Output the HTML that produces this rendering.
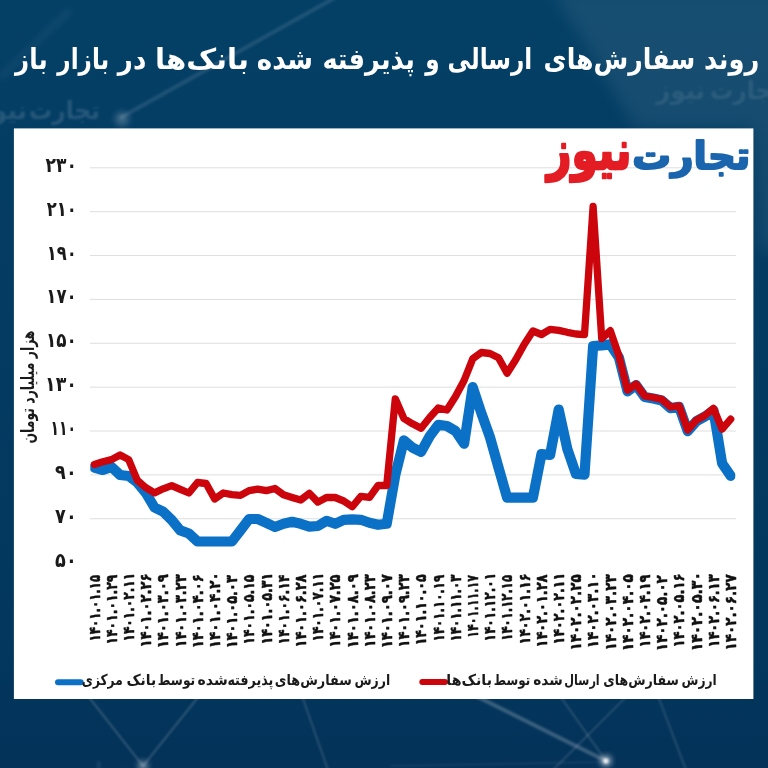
<!DOCTYPE html>
<html lang="fa">
<head>
<meta charset="utf-8">
<title>روند سفارش‌های ارسالی و پذیرفته شده بانک‌ها در بازار باز</title>
<style>
html,body{margin:0;padding:0;width:768px;height:768px;overflow:hidden;background:#043b62;}
svg{display:block;position:absolute;left:0;top:0;}
text{font-family:"DejaVu Sans","Liberation Sans",sans-serif;font-weight:bold;}
</style>
</head>
<body>
<svg width="768" height="768" viewBox="0 0 768 768">
<defs>
<linearGradient id="bg" x1="0" y1="0" x2="0" y2="1">
<stop offset="0" stop-color="#044066"/><stop offset="0.2" stop-color="#043d64"/><stop offset="0.85" stop-color="#03375d"/><stop offset="1" stop-color="#043259"/>
</linearGradient>
<clipPath id="plot"><rect x="90.3" y="140" width="645" height="440"/></clipPath>
<filter id="b1" x="-20%" y="-20%" width="140%" height="140%"><feGaussianBlur stdDeviation="1.2"/></filter>
<filter id="b3" x="-50%" y="-50%" width="200%" height="200%"><feGaussianBlur stdDeviation="3"/></filter>
<filter id="b8" x="-50%" y="-50%" width="200%" height="200%"><feGaussianBlur stdDeviation="8"/></filter>
</defs>
<rect width="768" height="768" fill="url(#bg)"/>
<g id="decor">
<polygon points="552,-10 790,-10 790,250 760,250 752,128 636,128" fill="#ffffff" opacity="0.07" filter="url(#b8)"/>
<line x1="338" y1="-4" x2="120" y2="118" stroke="#ffffff" stroke-width="4" opacity="0.10" filter="url(#b1)"/>
<line x1="0" y1="78" x2="70" y2="10" stroke="#ffffff" stroke-width="6" opacity="0.05" filter="url(#b3)"/>
<circle cx="122" cy="119" r="7" fill="#ffffff" opacity="0.22" filter="url(#b3)"/>
<g stroke="#ffffff" fill="none" filter="url(#b1)">
<line x1="88" y1="696" x2="143" y2="766" stroke-width="1.6" opacity="0.22"/>
<line x1="199" y1="696" x2="143" y2="766" stroke-width="1.6" opacity="0.22"/>
<line x1="302" y1="696" x2="328" y2="770" stroke-width="1.4" opacity="0.20"/>
<line x1="476" y1="696" x2="606" y2="761" stroke-width="4" opacity="0.22"/>
<line x1="560" y1="696" x2="606" y2="761" stroke-width="1.4" opacity="0.18"/>
<line x1="627" y1="696" x2="553" y2="770" stroke-width="1.4" opacity="0.18"/>
<line x1="658" y1="696" x2="686" y2="770" stroke-width="1.4" opacity="0.18"/>
<line x1="390" y1="766" x2="606" y2="762" stroke-width="1.2" opacity="0.12"/>
</g>
<circle cx="143" cy="766" r="5" fill="#ffffff" opacity="0.45" filter="url(#b3)"/>
<circle cx="606" cy="761" r="5" fill="#ffffff" opacity="0.75" filter="url(#b3)"/>
<circle cx="606" cy="761" r="2.5" fill="#ffffff" opacity="0.8" filter="url(#b1)"/>
<text y="119" text-anchor="start" direction="rtl" font-size="25" fill="#ffffff" opacity="0.13" filter="url(#b1)"><tspan x="100.0" textLength="71.1" lengthAdjust="spacingAndGlyphs">تجارت</tspan> <tspan x="27.0" textLength="49.67" lengthAdjust="spacingAndGlyphs">نیوز</tspan></text>
<text y="99" text-anchor="start" direction="rtl" font-size="25" fill="#ffffff" opacity="0.09" filter="url(#b1)"><tspan x="781.0" textLength="71.1" lengthAdjust="spacingAndGlyphs">تجارت</tspan> <tspan x="705.0" textLength="48.66" lengthAdjust="spacingAndGlyphs">نیوز</tspan></text>
<text y="780" text-anchor="start" direction="rtl" font-size="25" fill="#ffffff" opacity="0.07" filter="url(#b1)"><tspan x="129.0" textLength="71.1" lengthAdjust="spacingAndGlyphs">تجارت</tspan> <tspan x="54.0" textLength="48.66" lengthAdjust="spacingAndGlyphs">نیوز</tspan></text>
</g>
<text y="68.6" text-anchor="start" direction="rtl" font-size="29" fill="#ffffff"><tspan x="759.3" textLength="55.4" lengthAdjust="spacingAndGlyphs">روند</tspan> <tspan x="695.2" textLength="151.61" lengthAdjust="spacingAndGlyphs">سفارش‌های</tspan> <tspan x="532.3" textLength="84.72" lengthAdjust="spacingAndGlyphs">ارسالی</tspan> <tspan x="439.5" textLength="14.35" lengthAdjust="spacingAndGlyphs">و</tspan> <tspan x="414.9" textLength="92.52" lengthAdjust="spacingAndGlyphs">پذیرفته</tspan> <tspan x="313.0" textLength="56.32" lengthAdjust="spacingAndGlyphs">شده</tspan> <tspan x="248.9" textLength="93.89" lengthAdjust="spacingAndGlyphs">بانک‌ها</tspan> <tspan x="146.4" textLength="28.54" lengthAdjust="spacingAndGlyphs">در</tspan> <tspan x="109.3" textLength="51.95" lengthAdjust="spacingAndGlyphs">بازار</tspan> <tspan x="47.6" textLength="32.51" lengthAdjust="spacingAndGlyphs">باز</tspan></text>
<rect x="13.9" y="128.4" width="739.5" height="570.6" fill="#ffffff"/>

<g stroke="#dedede" stroke-width="1" fill="none">
<line x1="90" y1="167.80" x2="736" y2="167.80"/>
<line x1="90" y1="211.67" x2="736" y2="211.67"/>
<line x1="90" y1="255.54" x2="736" y2="255.54"/>
<line x1="90" y1="299.41" x2="736" y2="299.41"/>
<line x1="90" y1="343.28" x2="736" y2="343.28"/>
<line x1="90" y1="387.15" x2="736" y2="387.15"/>
<line x1="90" y1="431.02" x2="736" y2="431.02"/>
<line x1="90" y1="474.89" x2="736" y2="474.89"/>
<line x1="90" y1="518.76" x2="736" y2="518.76"/>
</g>
<g font-size="20.4" fill="#1a1a1a" text-anchor="end" direction="ltr">
<text x="76.9" y="171.8" textLength="31.4" lengthAdjust="spacingAndGlyphs">۲۳۰</text>
<text x="76.7" y="215.7" textLength="30" lengthAdjust="spacingAndGlyphs">۲۱۰</text>
<text x="76.7" y="259.5" textLength="30" lengthAdjust="spacingAndGlyphs">۱۹۰</text>
<text x="76.7" y="303.4" textLength="30.4" lengthAdjust="spacingAndGlyphs">۱۷۰</text>
<text x="76.8" y="347.3" textLength="30.8" lengthAdjust="spacingAndGlyphs">۱۵۰</text>
<text x="77.0" y="391.1" textLength="32" lengthAdjust="spacingAndGlyphs">۱۳۰</text>
<text x="75.9" y="435.0" textLength="25.5" lengthAdjust="spacingAndGlyphs">۱۱۰</text>
<text x="76.7" y="478.9" textLength="21.6" lengthAdjust="spacingAndGlyphs">۹۰</text>
<text x="76.7" y="522.8" textLength="21.6" lengthAdjust="spacingAndGlyphs">۷۰</text>
<text x="76.7" y="566.6" textLength="21.6" lengthAdjust="spacingAndGlyphs">۵۰</text>
</g>
<text transform="translate(33.5 387) rotate(-90)" text-anchor="middle" direction="rtl" font-size="18" fill="#1a1a1a" textLength="113" lengthAdjust="spacingAndGlyphs">هزار میلیارد تومان</text>
<path d="M94.3 467.5 L102.9 470.0 L111.5 466.9 L120.1 475.0 L128.7 476.0 L137.3 482.5 L145.9 493.0 L154.5 507.5 L163.1 511.7 L171.7 520.0 L180.3 530.4 L188.9 533.5 L197.5 541.5 L206.1 541.5 L214.7 541.5 L223.3 541.5 L231.9 541.5 L240.5 530.4 L249.1 519.0 L257.7 519.0 L266.3 522.8 L274.9 527.0 L283.5 523.8 L292.1 521.8 L300.7 523.8 L309.3 526.6 L317.9 526.0 L326.5 520.8 L335.1 523.8 L343.7 519.8 L352.3 519.3 L360.9 519.8 L369.5 522.8 L378.1 524.8 L386.7 523.8 L395.3 475.0 L403.9 440.4 L412.5 447.7 L421.1 451.9 L429.7 436.2 L438.3 424.8 L446.9 426.0 L455.5 431.0 L464.1 443.7 L472.7 387.1 L481.3 413.0 L489.9 437.0 L498.5 467.5 L507.1 497.7 L515.7 497.7 L524.3 497.7 L532.9 497.7 L541.5 454.0 L550.1 455.0 L558.7 409.5 L567.3 448.8 L575.9 473.8 L584.5 474.6 L593.1 346.0 L601.7 345.4 L610.3 344.4 L618.9 357.5 L627.5 391.3 L636.1 385.1 L644.7 397.1 L653.3 398.6 L661.9 400.5 L670.5 408.1 L679.1 406.9 L687.7 431.1 L696.3 421.3 L704.9 416.6 L713.5 410.5 L722.1 463.3 L730.7 475.8" fill="none" stroke="#0b71c6" stroke-width="10.2" stroke-linejoin="round" stroke-linecap="round" clip-path="url(#plot)"/>
<path d="M94.3 464.4 L102.9 461.7 L111.5 459.6 L120.1 455.0 L128.7 459.6 L137.3 480.4 L145.9 487.7 L154.5 492.9 L163.1 488.8 L171.7 485.6 L180.3 489.4 L188.9 493.0 L197.5 482.5 L206.1 483.5 L214.7 499.0 L223.3 493.0 L231.9 494.6 L240.5 495.4 L249.1 490.6 L257.7 489.1 L266.3 490.6 L274.9 488.5 L283.5 494.8 L292.1 497.5 L300.7 500.0 L309.3 493.3 L317.9 502.1 L326.5 497.5 L335.1 497.5 L343.7 501.0 L352.3 506.8 L360.9 496.3 L369.5 497.3 L378.1 485.3 L386.7 485.5 L395.3 398.8 L403.9 418.5 L412.5 423.8 L421.1 428.3 L429.7 417.5 L438.3 408.0 L446.9 410.0 L455.5 396.5 L464.1 380.5 L472.7 358.8 L481.3 352.5 L489.9 353.5 L498.5 357.7 L507.1 373.3 L515.7 359.8 L524.3 344.2 L532.9 331.0 L541.5 334.5 L550.1 329.4 L558.7 330.4 L567.3 332.3 L575.9 334.0 L584.5 334.6 L593.1 206.5 L601.7 338.5 L610.3 330.7 L618.9 355.8 L627.5 390.2 L636.1 384.0 L644.7 396.0 L653.3 397.5 L661.9 399.4 L670.5 407.0 L679.1 405.8 L687.7 430.0 L696.3 420.2 L704.9 415.5 L713.5 408.3 L722.1 429.2 L730.7 419.2" fill="none" stroke="#cc040c" stroke-width="7.3" stroke-linejoin="round" stroke-linecap="round" clip-path="url(#plot)"/>
<g font-size="15.5" fill="#111111" stroke="#111111" stroke-width="0.55" stroke-linejoin="round" text-anchor="start" direction="ltr" style="font-family:'DejaVu Sans Condensed','DejaVu Sans',sans-serif">
<text transform="translate(99.6 639.5) rotate(-90)" x="-2.0" textLength="66.82" lengthAdjust="spacingAndGlyphs">۱۴۰۱.۰۱.۱۵</text>
<text transform="translate(116.8 642.5) rotate(-90)" x="-2.0" textLength="69.92" lengthAdjust="spacingAndGlyphs">۱۴۰۱.۰۱.۲۹</text>
<text transform="translate(134.0 639.5) rotate(-90)" x="-2.0" textLength="68.62" lengthAdjust="spacingAndGlyphs">۱۴۰۱.۰۲.۱۱</text>
<text transform="translate(151.2 645.5) rotate(-90)" x="-2.0" textLength="74.0" lengthAdjust="spacingAndGlyphs">۱۴۰۱.۰۲.۲۶</text>
<text transform="translate(168.4 646.3) rotate(-90)" x="-2.0" textLength="74.06" lengthAdjust="spacingAndGlyphs">۱۴۰۱.۰۳.۰۹</text>
<text transform="translate(185.6 645.5) rotate(-90)" x="-2.0" textLength="73.11" lengthAdjust="spacingAndGlyphs">۱۴۰۱.۰۳.۲۳</text>
<text transform="translate(202.8 646.3) rotate(-90)" x="-2.0" textLength="74.01" lengthAdjust="spacingAndGlyphs">۱۴۰۱.۰۴.۰۶</text>
<text transform="translate(220.0 646.3) rotate(-90)" x="-2.0" textLength="76.07" lengthAdjust="spacingAndGlyphs">۱۴۰۱.۰۴.۲۰</text>
<text transform="translate(237.2 646.3) rotate(-90)" x="-2.0" textLength="73.1" lengthAdjust="spacingAndGlyphs">۱۴۰۱.۰۵.۰۳</text>
<text transform="translate(254.4 642.5) rotate(-90)" x="-2.0" textLength="69.92" lengthAdjust="spacingAndGlyphs">۱۴۰۱.۰۵.۱۵</text>
<text transform="translate(271.6 642.5) rotate(-90)" x="-2.0" textLength="71.81" lengthAdjust="spacingAndGlyphs">۱۴۰۱.۰۵.۳۱</text>
<text transform="translate(288.8 642.5) rotate(-90)" x="-2.0" textLength="69.92" lengthAdjust="spacingAndGlyphs">۱۴۰۱.۰۶.۱۴</text>
<text transform="translate(306.0 645.5) rotate(-90)" x="-2.0" textLength="73.03" lengthAdjust="spacingAndGlyphs">۱۴۰۱.۰۶.۲۸</text>
<text transform="translate(323.2 639.5) rotate(-90)" x="-2.0" textLength="68.62" lengthAdjust="spacingAndGlyphs">۱۴۰۱.۰۷.۱۱</text>
<text transform="translate(340.4 645.5) rotate(-90)" x="-2.0" textLength="73.03" lengthAdjust="spacingAndGlyphs">۱۴۰۱.۰۷.۲۵</text>
<text transform="translate(357.6 646.3) rotate(-90)" x="-2.0" textLength="74.06" lengthAdjust="spacingAndGlyphs">۱۴۰۱.۰۸.۰۹</text>
<text transform="translate(374.8 645.5) rotate(-90)" x="-2.0" textLength="73.11" lengthAdjust="spacingAndGlyphs">۱۴۰۱.۰۸.۲۳</text>
<text transform="translate(392.0 646.3) rotate(-90)" x="-2.0" textLength="74.06" lengthAdjust="spacingAndGlyphs">۱۴۰۱.۰۹.۰۷</text>
<text transform="translate(409.2 645.5) rotate(-90)" x="-2.0" textLength="73.11" lengthAdjust="spacingAndGlyphs">۱۴۰۱.۰۹.۲۳</text>
<text transform="translate(426.4 643.3) rotate(-90)" x="-2.0" textLength="70.96" lengthAdjust="spacingAndGlyphs">۱۴۰۱.۱۰.۰۵</text>
<text transform="translate(443.6 639.5) rotate(-90)" x="-2.0" textLength="66.82" lengthAdjust="spacingAndGlyphs">۱۴۰۱.۱۰.۱۹</text>
<text transform="translate(460.8 639.5) rotate(-90)" x="-2.0" textLength="66.98" lengthAdjust="spacingAndGlyphs">۱۴۰۱.۱۱.۰۳</text>
<text transform="translate(478.0 635.7) rotate(-90)" x="-2.0" textLength="62.67" lengthAdjust="spacingAndGlyphs">۱۴۰۱.۱۱.۱۷</text>
<text transform="translate(495.2 639.5) rotate(-90)" x="-2.0" textLength="68.62" lengthAdjust="spacingAndGlyphs">۱۴۰۱.۱۲.۰۱</text>
<text transform="translate(512.4 638.7) rotate(-90)" x="-2.0" textLength="65.78" lengthAdjust="spacingAndGlyphs">۱۴۰۱.۱۲.۱۵</text>
<text transform="translate(529.6 642.5) rotate(-90)" x="-2.0" textLength="70.85" lengthAdjust="spacingAndGlyphs">۱۴۰۲.۰۱.۱۶</text>
<text transform="translate(546.8 645.5) rotate(-90)" x="-2.0" textLength="73.03" lengthAdjust="spacingAndGlyphs">۱۴۰۲.۰۱.۲۸</text>
<text transform="translate(564.0 642.5) rotate(-90)" x="-2.0" textLength="71.81" lengthAdjust="spacingAndGlyphs">۱۴۰۲.۰۲.۱۱</text>
<text transform="translate(581.2 648.5) rotate(-90)" x="-2.0" textLength="76.14" lengthAdjust="spacingAndGlyphs">۱۴۰۲.۰۲.۲۵</text>
<text transform="translate(598.4 646.3) rotate(-90)" x="-2.0" textLength="76.07" lengthAdjust="spacingAndGlyphs">۱۴۰۲.۰۳.۱۰</text>
<text transform="translate(615.6 648.5) rotate(-90)" x="-2.0" textLength="76.18" lengthAdjust="spacingAndGlyphs">۱۴۰۲.۰۳.۲۳</text>
<text transform="translate(632.8 649.3) rotate(-90)" x="-2.0" textLength="77.17" lengthAdjust="spacingAndGlyphs">۱۴۰۲.۰۴.۰۵</text>
<text transform="translate(650.0 645.5) rotate(-90)" x="-2.0" textLength="73.03" lengthAdjust="spacingAndGlyphs">۱۴۰۲.۰۴.۱۹</text>
<text transform="translate(667.2 649.3) rotate(-90)" x="-2.0" textLength="76.17" lengthAdjust="spacingAndGlyphs">۱۴۰۲.۰۵.۰۲</text>
<text transform="translate(684.4 645.5) rotate(-90)" x="-2.0" textLength="74.0" lengthAdjust="spacingAndGlyphs">۱۴۰۲.۰۵.۱۶</text>
<text transform="translate(701.6 649.3) rotate(-90)" x="-2.0" textLength="79.26" lengthAdjust="spacingAndGlyphs">۱۴۰۲.۰۵.۳۰</text>
<text transform="translate(718.8 645.5) rotate(-90)" x="-2.0" textLength="73.11" lengthAdjust="spacingAndGlyphs">۱۴۰۲.۰۶.۱۳</text>
<text transform="translate(736.0 648.5) rotate(-90)" x="-2.0" textLength="76.14" lengthAdjust="spacingAndGlyphs">۱۴۰۲.۰۶.۲۷</text>
</g>
<line x1="58" y1="682.2" x2="80.7" y2="682.2" stroke="#0b71c6" stroke-width="6" stroke-linecap="round"/>
<text y="684.8" text-anchor="start" direction="rtl" font-size="15" fill="#1a1a1a"><tspan x="390.2" textLength="35.77" lengthAdjust="spacingAndGlyphs">ارزش</tspan> <tspan x="351.8" textLength="76.97" lengthAdjust="spacingAndGlyphs">سفارش‌های</tspan> <tspan x="273.4" textLength="45.97" lengthAdjust="spacingAndGlyphs">پذیرفته</tspan> <tspan x="227.7" textLength="30.14" lengthAdjust="spacingAndGlyphs">شده</tspan> <tspan x="195.2" textLength="37.52" lengthAdjust="spacingAndGlyphs">توسط</tspan> <tspan x="156.25" textLength="29.86" lengthAdjust="spacingAndGlyphs">بانک</tspan> <tspan x="122.7" textLength="40.98" lengthAdjust="spacingAndGlyphs">مرکزی</tspan></text>
<line x1="422.3" y1="682" x2="445" y2="682" stroke="#cc040c" stroke-width="6" stroke-linecap="round"/>
<text y="684.8" text-anchor="start" direction="rtl" font-size="15" fill="#1a1a1a"><tspan x="716.8" textLength="35.25" lengthAdjust="spacingAndGlyphs">ارزش</tspan> <tspan x="678.9" textLength="75.68" lengthAdjust="spacingAndGlyphs">سفارش‌های</tspan> <tspan x="599.75" textLength="35.41" lengthAdjust="spacingAndGlyphs">ارسال</tspan> <tspan x="562.8" textLength="29.62" lengthAdjust="spacingAndGlyphs">شده</tspan> <tspan x="530.3" textLength="36.48" lengthAdjust="spacingAndGlyphs">توسط</tspan> <tspan x="492.0" textLength="45.67" lengthAdjust="spacingAndGlyphs">بانک‌ها</tspan></text>
<text transform="translate(750.3 168.8) scale(1 0.9)" text-anchor="start" direction="rtl" font-size="42" fill="#1b65ae" stroke="#1b65ae" stroke-width="2.3" stroke-linejoin="round" textLength="118" lengthAdjust="spacingAndGlyphs">تجارت</text>
<text transform="translate(631.5 168.8) scale(1 1.29)" text-anchor="start" direction="rtl" font-size="42" fill="#e41c24" stroke="#e41c24" stroke-width="1.9" stroke-linejoin="round" textLength="84.5" lengthAdjust="spacingAndGlyphs">نیوز</text>
</svg>
</body>
</html>
